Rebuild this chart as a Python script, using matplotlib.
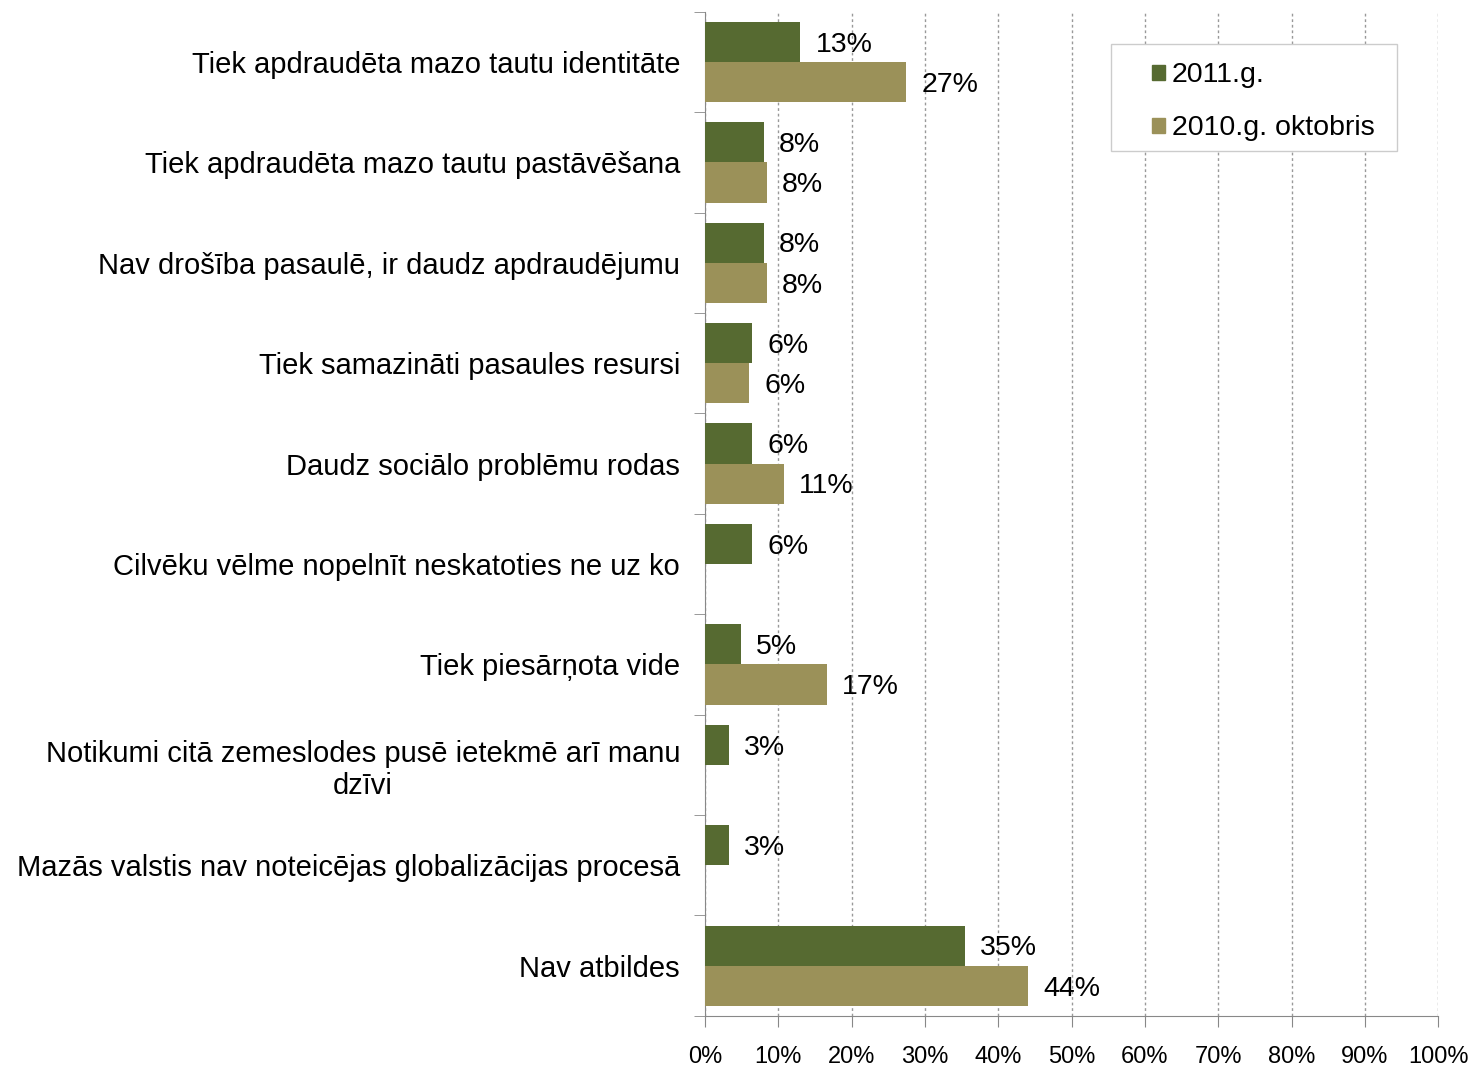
import numpy as np
import matplotlib.pyplot as plt
from matplotlib.patches import Patch, Rectangle

kategorijas = [
    "Tiek apdraudēta mazo tautu identitāte",
    "Tiek apdraudēta mazo tautu pastāvēšana",
    "Nav drošība pasaulē, ir daudz apdraudējumu",
    "Tiek samazināti pasaules resursi",
    "Daudz sociālo problēmu rodas",
    "Cilvēku vēlme nopelnīt neskatoties ne uz ko",
    "Tiek piesārņota vide",
    "Notikumi citā zemeslodes pusē ietekmē arī manu\ndzīvi",
    "Mazās valstis nav noteicējas globalizācijas procesā",
    "Nav atbildes",
]
v2011 = [13.0, 8.0, 8.0, 6.4, 6.4, 6.4, 4.9, 3.2, 3.2, 35.4]
v2010 = [27.4, 8.4, 8.4, 6.0, 10.7, np.nan, 16.6, np.nan, np.nan, 44.1]
xticks = list(range(0, 101, 10))

c2011 = "#566a31"
c2010 = "#9b9159"

plt.rcParams['font.family'] = ['Liberation Sans', 'DejaVu Sans']

fig = plt.figure(figsize=(14.72, 10.66), dpi=100)
ax = fig.add_axes([0.479, 0.047, 0.498, 0.942])

n = len(kategorijas)
y = np.arange(n)
h = 0.4
ax.barh(y - h / 2, v2011, height=h, color=c2011, zorder=3)
ax.barh(y + h / 2, v2010, height=h, color=c2010, zorder=3)

for i in range(n):
    for val, off in ((v2011[i], -h / 2), (v2010[i], h / 2)):
        if np.isnan(val):
            continue
        ax.annotate(f"{round(val):.0f}%", (val, y[i] + off), xytext=(11, -2),
                    textcoords="offset points", ha="left", va="center",
                    fontsize=20.5, zorder=4)

ax.set_ylim(n - 0.5, -0.5)
ax.set_xlim(0, 100)
ax.set_xticks(xticks)
ax.set_xticklabels([f"{t}%" for t in xticks], fontsize=17)
ax.set_yticks(y)
ax.set_yticklabels(kategorijas, fontsize=21)
for lbl in ax.get_yticklabels():
    lbl.set_multialignment("center")
    lbl.set_linespacing(1.2)
ax.set_yticks(np.arange(-0.5, n, 1), minor=True)
ax.tick_params(axis="y", which="major", length=0, pad=18)
ax.tick_params(axis="y", which="minor", length=8, color="#888888", direction="out")
ax.tick_params(axis="x", length=8, color="#888888", direction="out", pad=14)

ax.grid(axis="x", color="#999999", linestyle=(0, (2, 2)), linewidth=1, zorder=0)
for s in ("top", "right"):
    ax.spines[s].set_visible(False)
for s in ("left", "bottom"):
    ax.spines[s].set_color("#888888")

# legend box drawn separately, Excel style
box = Rectangle((0.7548, 0.8584), 0.1943, 0.1004, transform=fig.transFigure,
                facecolor="white", edgecolor="#cccccc", linewidth=1, zorder=5)
fig.patches.append(box)
handles = [Patch(color=c2011, label="2011.g."), Patch(color=c2010, label="2010.g. oktobris")]
leg = fig.legend(handles=handles, loc="upper left", bbox_to_anchor=(0.7825, 0.9415),
                 fontsize=20.5, frameon=False, handlelength=0.45,
                 handleheight=0.45, handletextpad=0.25, labelspacing=0.95,
                 borderpad=0, borderaxespad=0)
leg.set_zorder(6)

fig.savefig("out.png", dpi=100)
